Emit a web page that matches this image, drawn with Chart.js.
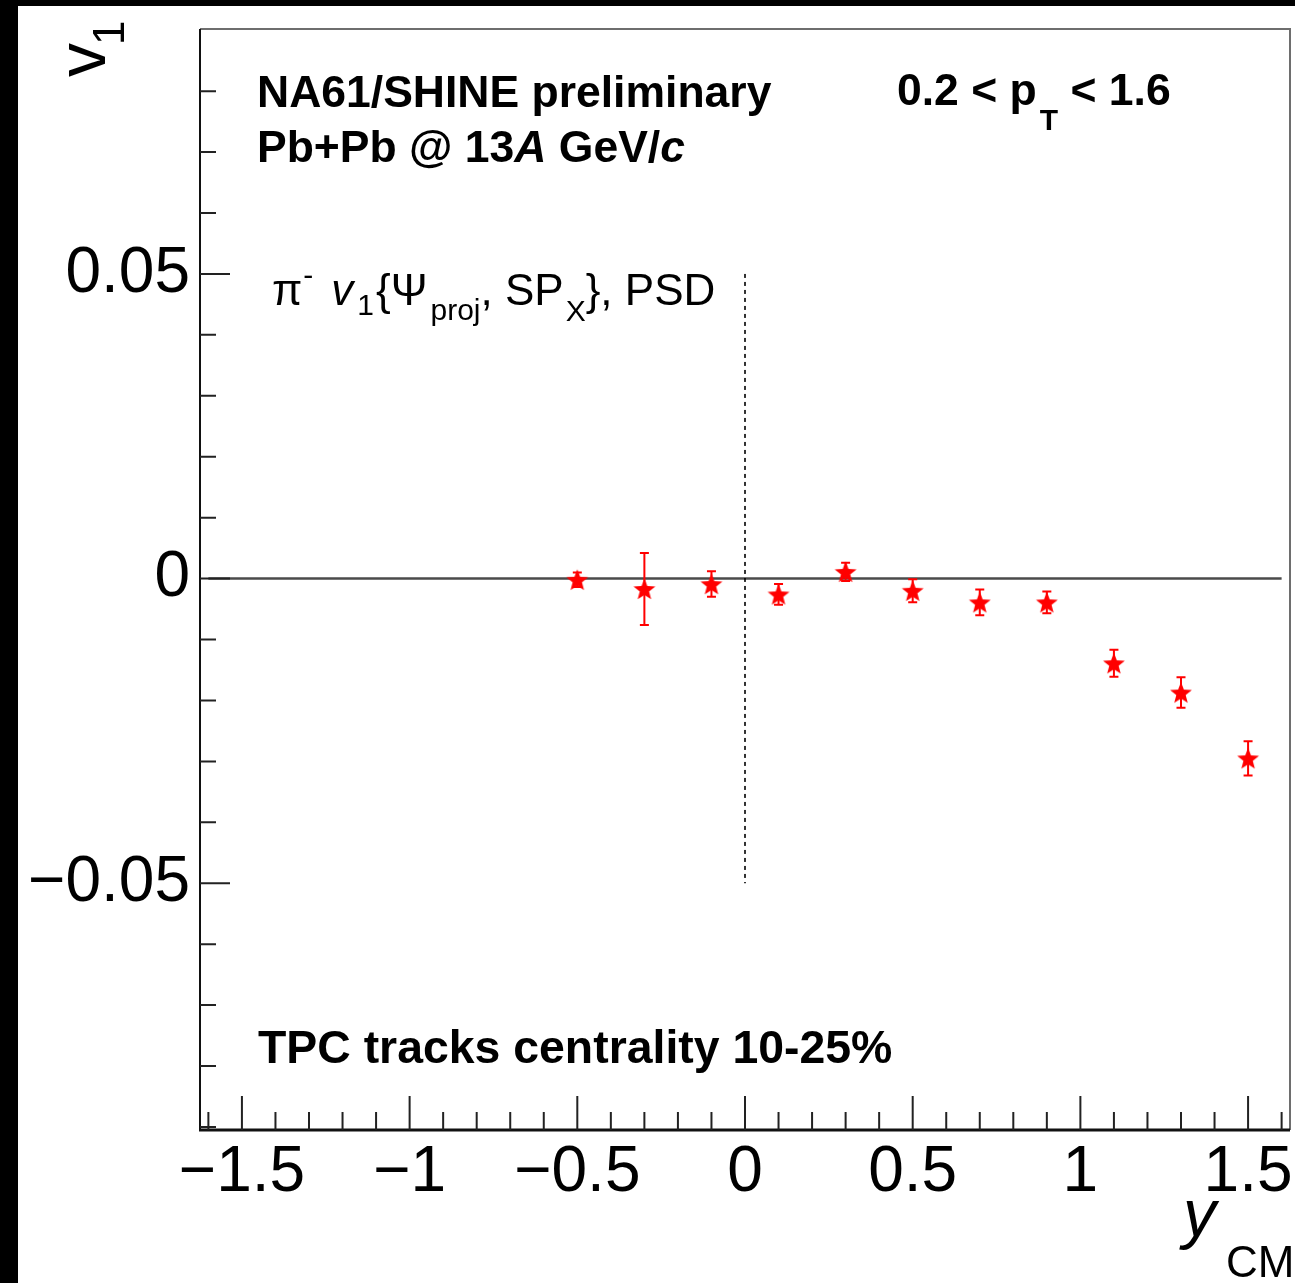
<!DOCTYPE html>
<html>
<head>
<meta charset="utf-8">
<script src="https://cdn.jsdelivr.net/npm/chart.js@4.4.1/dist/chart.umd.min.js"></script>
<style>
  html, body { margin: 0; padding: 0; background: #000; width: 1295px; height: 1283px; overflow: hidden; }
  #wrap { position: absolute; left: 18px; top: 6px; width: 1277px; height: 1277px; background: #fff; }
  canvas { display: block; }
</style>
</head>
<body>
<div id="wrap"><canvas id="c" width="1277" height="1277"></canvas></div>
<script>
// Rapidity bins (y_CM) of the measurement
const ycm = [-0.5, -0.3, -0.1, 0.1, 0.3, 0.5, 0.7, 0.9, 1.1, 1.3, 1.5];
// Directed flow v1 of negative pions
const v1 = [-0.0002, -0.0017, -0.0009, -0.0026, 0.0011, -0.0020, -0.0039, -0.0039, -0.0139, -0.0187, -0.0295];
// Statistical uncertainties of v1
const v1Err = [0.0012, 0.0059, 0.0021, 0.0017, 0.0015, 0.0019, 0.0021, 0.0018, 0.0022, 0.0025, 0.0028];

// Axis ranges and labelled ticks
const xRange = [-1.625, 1.625];
const yRange = [-0.0905, 0.0902];
const xTickLabels = [-1.5, -1, -0.5, 0, 0.5, 1, 1.5];
const yTickLabels = [-0.05, 0, 0.05];

const FONT = '"Liberation Sans", Arial, Helvetica, sans-serif';

// Filled red five-pointed star marker
function makeStar(size, rOut, rIn, color) {
  const c = document.createElement('canvas');
  c.width = size; c.height = size;
  const g = c.getContext('2d');
  g.fillStyle = color;
  g.beginPath();
  for (let i = 0; i < 10; i++) {
    const r = i % 2 === 0 ? rOut : rIn;
    const a = -Math.PI / 2 + i * Math.PI / 5;
    const px = size / 2 + r * Math.cos(a), py = size / 2 + 1 + r * Math.sin(a);
    if (i === 0) g.moveTo(px, py); else g.lineTo(px, py);
  }
  g.closePath();
  g.fill();
  return c;
}
const starImg = makeStar(26, 11.5, 4.9, '#ff0000');

const fmt = v => (v < 0 ? '\u2212' + String(Math.abs(v)) : String(v));

// Draws a sequence of text pieces with their own fonts and offsets
function drawRich(ctx, x, y, segs) {
  for (const s of segs) {
    ctx.font = s.font;
    const dx = s.dx || 0;
    ctx.fillText(s.t, x + dx, y + (s.dy || 0));
    x += dx + ctx.measureText(s.t).width;
  }
  return x;
}

const framePlugin = {
  id: 'frame',
  beforeDatasetsDraw(chart) {
    const { ctx, scales: { x, y } } = chart;
    ctx.save();
    // zero line
    ctx.strokeStyle = '#4a4a4a';
    ctx.lineWidth = 2.5;
    ctx.beginPath();
    ctx.moveTo(x.getPixelForValue(-1.6), y.getPixelForValue(0));
    ctx.lineTo(x.getPixelForValue(1.6), y.getPixelForValue(0));
    ctx.stroke();
    // dashed line at mid-rapidity
    ctx.strokeStyle = '#000';
    ctx.lineWidth = 1.6;
    ctx.setLineDash([4, 4]);
    ctx.beginPath();
    ctx.moveTo(x.getPixelForValue(0), y.getPixelForValue(0.05));
    ctx.lineTo(x.getPixelForValue(0), y.getPixelForValue(-0.05));
    ctx.stroke();
    ctx.setLineDash([]);
    // error bars
    ctx.strokeStyle = '#ff0000';
    ctx.lineWidth = 2;
    for (let i = 0; i < ycm.length; i++) {
      const px = x.getPixelForValue(ycm[i]);
      const top = y.getPixelForValue(v1[i] + v1Err[i]);
      const bot = y.getPixelForValue(v1[i] - v1Err[i]);
      ctx.beginPath();
      ctx.moveTo(px, top); ctx.lineTo(px, bot);
      ctx.moveTo(px - 4.5, top); ctx.lineTo(px + 4.5, top);
      ctx.moveTo(px - 4.5, bot); ctx.lineTo(px + 4.5, bot);
      ctx.stroke();
    }
    ctx.restore();
  },
  afterDraw(chart) {
    const { ctx, chartArea: a, scales: { x, y } } = chart;
    ctx.save();
    // frame
    ctx.strokeStyle = '#6e6e6e';
    ctx.lineWidth = 2;
    ctx.beginPath();
    ctx.moveTo(a.left, a.top); ctx.lineTo(a.right, a.top); ctx.lineTo(a.right, a.bottom);
    ctx.stroke();
    ctx.strokeStyle = '#111';
    ctx.lineWidth = 2;
    ctx.beginPath();
    ctx.moveTo(a.left, a.top); ctx.lineTo(a.left, a.bottom);
    ctx.stroke();
    ctx.lineWidth = 3;
    ctx.beginPath();
    ctx.moveTo(a.left - 1, a.bottom); ctx.lineTo(a.right, a.bottom);
    ctx.stroke();
    // inward ticks
    ctx.lineWidth = 2;
    ctx.strokeStyle = '#222';
    ctx.beginPath();
    for (let k = -16; k <= 16; k++) {
      const v = k / 10;
      const px = x.getPixelForValue(v);
      if (px <= a.left + 2 || px >= a.right - 2) continue;
      const len = k % 5 === 0 ? 34 : 18;
      ctx.moveTo(px, a.bottom); ctx.lineTo(px, a.bottom - len);
    }
    for (let k = -9; k <= 9; k++) {
      const v = k / 100;
      const py = y.getPixelForValue(v);
      if (py <= a.top + 3 || py >= a.bottom - 3) continue;
      const len = k % 5 === 0 ? 30 : 16;
      ctx.moveTo(a.left, py); ctx.lineTo(a.left + len, py);
    }
    ctx.stroke();

    // annotations
    ctx.fillStyle = '#000';
    ctx.textAlign = 'left';
    ctx.textBaseline = 'alphabetic';
    const B = 'bold 44.5px ' + FONT;
    const BI = 'italic bold 44.5px ' + FONT;
    ctx.font = B;
    ctx.fillText('NA61/SHINE preliminary', 239, 101);
    drawRich(ctx, 239, 156, [
      { t: 'Pb+Pb @ 13', font: B },
      { t: 'A', font: BI },
      { t: ' GeV/', font: B },
      { t: 'c', font: BI }
    ]);
    drawRich(ctx, 879, 99, [
      { t: '0.2 < p', font: B },
      { t: 'T', font: 'bold 30px ' + FONT, dy: 25, dx: 3 },
      { t: ' < 1.6', font: B }
    ]);
    ctx.font = 'bold 46.4px ' + FONT;
    ctx.fillText('TPC tracks centrality 10-25%', 240, 1057);

    const R = '44px ' + FONT, RI = 'italic 44px ' + FONT, S = '30px ' + FONT;
    drawRich(ctx, 254, 299, [
      { t: '\u03c0', font: R },
      { t: '-', font: S, dy: -20, dx: 1 },
      { t: 'v', font: RI, dx: 18 },
      { t: '1', font: S, dy: 10, dx: 4 },
      { t: '{\u03a8', font: R, dx: 2 },
      { t: 'proj', font: S, dy: 15, dx: 3 },
      { t: ', SP', font: R },
      { t: 'X', font: S, dy: 16, dx: 2 },
      { t: '}, PSD', font: R }
    ]);

    // axis titles
    ctx.save();
    ctx.translate(87, 71);
    ctx.rotate(-Math.PI / 2);
    ctx.font = '68px ' + FONT;
    ctx.fillText('v', 0, 0);
    ctx.font = '44px ' + FONT;
    ctx.fillText('1', 32, 19);
    ctx.restore();

    ctx.font = 'italic 66px ' + FONT;
    ctx.fillText('y', 1165, 1230);
    ctx.font = '44px ' + FONT;
    ctx.fillText('CM', 1208, 1271);
    ctx.restore();
  }
};

new Chart(document.getElementById('c'), {
  type: 'scatter',
  data: {
    datasets: [{
      data: ycm.map((xv, i) => ({ x: xv, y: v1[i] })),
      pointStyle: starImg,
      showLine: false
    }]
  },
  options: {
    responsive: false,
    devicePixelRatio: 1,
    animation: false,
    layout: { padding: { top: 23, right: 5, left: 0, bottom: 0 } },
    plugins: { legend: { display: false }, tooltip: { enabled: false } },
    scales: {
      x: {
        type: 'linear', position: 'bottom',
        min: xRange[0], max: xRange[1],
        grid: { display: false, drawTicks: false },
        border: { display: false },
        ticks: {
          font: { family: FONT, size: 64 }, color: '#000', padding: 5,
          autoSkip: false, maxRotation: 0, minRotation: 0,
          callback: v => fmt(v)
        },
        afterBuildTicks: s => { s.ticks = xTickLabels.map(v => ({ value: v })); },
        afterFit: s => { s.height = 153; s.paddingLeft = 0; s.paddingRight = 0; }
      },
      y: {
        type: 'linear', position: 'left',
        min: yRange[0], max: yRange[1],
        grid: { display: false, drawTicks: false },
        border: { display: false },
        ticks: {
          font: { family: FONT, size: 64 }, color: '#000', padding: 10,
          autoSkip: false,
          callback: v => fmt(v)
        },
        afterBuildTicks: s => { s.ticks = yTickLabels.map(v => ({ value: v })); },
        afterFit: s => { s.width = 182; s.paddingTop = 0; s.paddingBottom = 0; }
      }
    }
  },
  plugins: [framePlugin]
});
</script>
</body>
</html>
